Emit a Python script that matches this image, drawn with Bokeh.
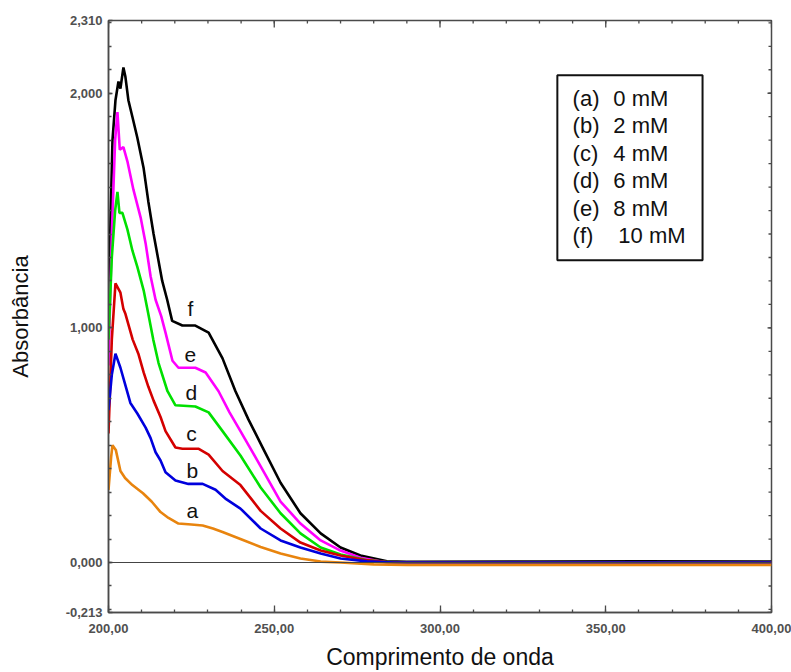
import math
from bokeh.plotting import figure
from bokeh.models import (FixedTicker, LinearAxis, Span,
                          CustomJSTickFormatter, ColumnDataSource, Range1d)
from bokeh.core.properties import value
from bokeh.embed import file_html
from bokeh.resources import INLINE

# ---------------- data ----------------
wl_a = [200.0, 200.8, 201.2, 202.2, 203.6, 205.0, 207.2, 210.4, 213.0, 215.7, 218.1,
        221.1, 225.0, 228.4, 231.5, 234.4, 239.8, 245.9, 251.9, 257.9, 264.0, 270.0,
        280.0, 290.0, 320.0, 360.0, 400.0]
abs_a = [0.31, 0.45, 0.50, 0.48, 0.39, 0.36, 0.33, 0.295, 0.26, 0.215, 0.19,
         0.166, 0.162, 0.158, 0.145, 0.13, 0.10, 0.066, 0.038, 0.017, 0.004, 0.0,
         -0.008, -0.010, -0.010, -0.010, -0.010]

wl_b = [200.0, 201.0, 202.1, 203.6, 205.0, 206.6, 208.7, 211.2, 212.7, 214.2, 215.7,
        217.2, 220.2, 224.1, 228.4, 232.3, 235.5, 239.8, 245.9, 251.9, 257.9, 264.0,
        270.0, 278.0, 286.0, 300.0, 400.0]
abs_b = [0.65, 0.80, 0.89, 0.83, 0.76, 0.68, 0.635, 0.575, 0.53, 0.47, 0.435,
         0.385, 0.35, 0.335, 0.335, 0.31, 0.27, 0.23, 0.145, 0.094, 0.064, 0.038,
         0.017, 0.005, 0.0, 0.0, 0.0]

wl_c = [200.0, 201.0, 202.1, 203.6, 204.5, 205.1, 207.3, 209.0, 210.6, 212.0, 213.6,
        215.7, 217.2, 220.2, 222.3, 227.1, 230.2, 234.4, 239.8, 245.9, 251.9, 257.9,
        264.0, 270.0, 278.0, 286.0, 300.0, 400.0]
abs_c = [0.55, 0.95, 1.19, 1.15, 1.08, 1.06, 0.95, 0.89, 0.81, 0.75, 0.69,
         0.62, 0.56, 0.49, 0.485, 0.485, 0.46, 0.39, 0.33, 0.22, 0.145, 0.085,
         0.051, 0.03, 0.009, 0.0, 0.0, 0.0]

wl_d = [200.0, 201.0, 202.0, 202.7, 203.3, 204.2, 205.7, 207.2, 208.7, 210.6, 212.0,
        213.5, 215.1, 217.8, 220.2, 226.2, 230.2, 234.4, 239.8, 245.9, 251.9, 257.9,
        264.0, 270.0, 278.4, 286.0, 300.0, 400.0]
abs_d = [0.95, 1.30, 1.50, 1.58, 1.49, 1.49, 1.42, 1.33, 1.26, 1.16, 1.06,
         0.95, 0.85, 0.73, 0.67, 0.665, 0.64, 0.56, 0.456, 0.32, 0.21, 0.124,
         0.064, 0.034, 0.009, 0.0, 0.0, 0.0]

wl_e = [200.0, 201.0, 202.0, 202.7, 203.4, 204.5, 205.7, 207.5, 209.7, 211.2, 212.7,
        214.2, 215.9, 217.2, 219.3, 221.1, 226.2, 229.3, 233.2, 236.5, 239.8, 245.9,
        251.9, 257.9, 264.0, 270.0, 276.0, 284.0, 300.0, 400.0]
abs_e = [0.84, 1.40, 1.80, 1.92, 1.76, 1.77, 1.71, 1.59, 1.47, 1.36, 1.22,
         1.12, 1.05, 0.98, 0.86, 0.83, 0.83, 0.81, 0.73, 0.64, 0.56, 0.41,
         0.26, 0.166, 0.094, 0.051, 0.02, 0.0, 0.0, 0.0]

wl_f = [200.0, 200.6, 201.2, 202.1, 203.0, 203.6, 204.5, 205.1, 206.0, 207.2, 208.7,
        210.6, 212.0, 213.6, 216.2, 217.7, 219.2, 222.3, 226.2, 230.2, 234.4, 238.3,
        242.2, 246.5, 251.9, 257.9, 264.0, 270.0, 276.0, 284.0, 290.0, 330.0, 360.0, 400.0]
abs_f = [1.10, 1.45, 1.80, 1.97, 2.05, 2.02, 2.11, 2.07, 1.97, 1.90, 1.81,
         1.68, 1.54, 1.40, 1.20, 1.12, 1.03, 1.01, 1.01, 0.98, 0.87, 0.73,
         0.61, 0.49, 0.34, 0.21, 0.124, 0.064, 0.03, 0.005, 0.003, 0.004, 0.005, 0.004]

curve_letters = ["a", "b", "c", "d", "e", "f"]
legend_tags = ["(a)", "(b)", "(c)", "(d)", "(e)", "(f)"]
legend_conc = ["0 mM", "2 mM", "4 mM", "6 mM", "8 mM", "10 mM"]

x_major = [200, 250, 300, 350, 400]
x_minor = list(range(200, 401, 10))
y_major = [-0.213, 0.0, 1.0, 2.0, 2.31]
y_minor = [round(-0.2 + 0.1 * i, 1) for i in range(26)]

# ---------------- styles / positions ----------------
colors = ["#E8840E", "#0000DD", "#D40000", "#00E000", "#FF00FF", "#000000"]
series = [(wl_a, abs_a), (wl_b, abs_b), (wl_c, abs_c),
          (wl_d, abs_d), (wl_e, abs_e), (wl_f, abs_f)]

FONT = "Liberation Sans"
AXC = "#4a4a4a"
X0, X1, Y0, Y1 = 200, 400, -0.213, 2.31

p = figure(width=791, height=672, output_backend="svg", toolbar_location=None,
           x_range=Range1d(X0, X1), y_range=Range1d(Y0, Y1),
           min_border_left=108, min_border_right=20, min_border_top=20,
           min_border_bottom=60, x_axis_location=None, y_axis_location=None)
p.grid.visible = False
p.outline_line_color = AXC
p.outline_line_width = 1.5
p.background_fill_color = "white"
p.border_fill_color = "white"

xfmt = CustomJSTickFormatter(code="return tick.toFixed(2).replace('.', ',');")
yfmt = CustomJSTickFormatter(code="return tick.toFixed(3).replace('.', ',');")


def style_axis(ax):
    ax.axis_line_color = AXC
    ax.axis_line_width = 1.5
    ax.major_tick_line_color = AXC
    ax.minor_tick_line_color = AXC
    ax.major_tick_line_width = 1.3
    ax.minor_tick_line_width = 1.3
    ax.major_tick_out = 0
    ax.minor_tick_out = 0
    ax.major_label_text_font = FONT
    ax.major_label_text_font_style = "bold"
    ax.major_label_text_font_size = "13px"
    ax.major_label_text_color = "#505050"
    ax.axis_label_text_font = FONT
    ax.axis_label_text_font_style = "normal"
    ax.axis_label_text_color = "#111111"


xb = LinearAxis(ticker=FixedTicker(ticks=x_major, minor_ticks=x_minor), formatter=xfmt,
                axis_label="Comprimento de onda")
style_axis(xb)
xb.major_tick_in = 7
xb.minor_tick_in = 3
xb.major_label_standoff = 11
xb.axis_label_standoff = 8
xb.axis_label_text_font_size = "23px"
p.add_layout(xb, "below")

yl = LinearAxis(ticker=FixedTicker(ticks=y_major, minor_ticks=y_minor), formatter=yfmt,
                axis_label="Absorbância")
style_axis(yl)
yl.major_tick_in = 4
yl.minor_tick_in = 3
yl.major_label_standoff = 6
yl.axis_label_standoff = 30
yl.axis_label_text_font_size = "22px"
p.add_layout(yl, "left")

# mirrored ticks on the top and right edges (screen-length rays)
p.ray(x=x_minor, y=[Y1] * len(x_minor), length=3, length_units="screen",
      angle=-math.pi / 2, line_color=AXC, line_width=1.3)
p.ray(x=x_major, y=[Y1] * len(x_major), length=7, length_units="screen",
      angle=-math.pi / 2, line_color=AXC, line_width=1.3)
p.ray(x=[X1] * len(y_minor), y=y_minor, length=3, length_units="screen",
      angle=math.pi, line_color=AXC, line_width=1.3)
p.ray(x=[X1] * len(y_major), y=y_major, length=4, length_units="screen",
      angle=math.pi, line_color=AXC, line_width=1.3)

p.add_layout(Span(location=0, dimension="width", line_color="#444444", line_width=1.2))

for (xs, ys), c in zip(reversed(series), reversed(colors)):
    p.line(xs, ys, line_color=c, line_width=2.6)

# curve letters
lab_x = [225.3, 225.3, 225.0, 225.0, 224.7, 224.7]
lab_y = [0.222, 0.392, 0.550, 0.725, 0.883, 1.083]
p.text(x=lab_x, y=lab_y, text=curve_letters, text_font=value(FONT),
       text_font_size="21px", text_color="#111111", text_align="center",
       text_baseline="middle")

# legend box (drawn as a glyph so the texts sit on top of it)
p.quad(left=[335.4], right=[379.2], bottom=[1.288], top=[2.077],
       fill_color="white", line_color="#111111", line_width=2)
row_y = [1.979, 1.862, 1.744, 1.627, 1.510, 1.392]
tag_x = [340.0] * 6
conc_x = [352.3, 352.3, 352.3, 352.3, 352.3, 353.8]
src_tags = ColumnDataSource(dict(x=tag_x, y=row_y, t=legend_tags))
src_conc = ColumnDataSource(dict(x=conc_x, y=row_y, t=legend_conc))
for src in (src_tags, src_conc):
    p.text(x="x", y="y", text="t", source=src, text_font=value(FONT),
           text_font_size="22px", text_color="#111111", text_align="left",
           text_baseline="middle")

open("out.html", "w").write(file_html(p, INLINE))
